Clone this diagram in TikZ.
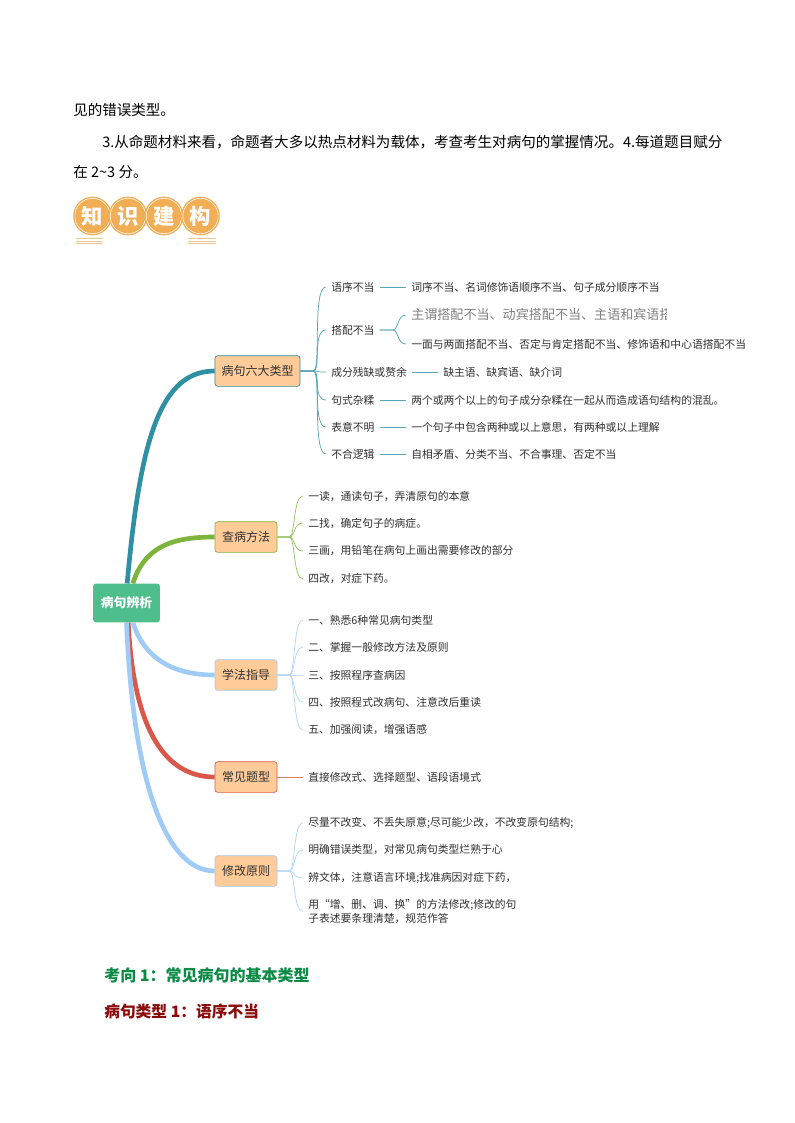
\documentclass[tikz,border=0pt]{standalone}
\usepackage{fontspec}
\usepackage{xcolor}
\setmainfont{Noto Sans CJK SC}
\usetikzlibrary{positioning}
\definecolor{rootgreen}{HTML}{4DBE8C}
\definecolor{boxfill}{HTML}{FFCC99}
\definecolor{badge}{HTML}{F2AE55}
\definecolor{stripe}{HTML}{EFC98F}
\definecolor{leaftext}{HTML}{303030}
\definecolor{teal1}{HTML}{2F8FA3}
\definecolor{green1}{HTML}{7DB53C}
\definecolor{sky1}{HTML}{A0CBF5}
\definecolor{red1}{HTML}{D9584A}
\definecolor{headgreen}{HTML}{0B8A45}
\definecolor{headred}{HTML}{8B0A0A}
\tikzset{
  every node/.style={inner sep=0pt},
  rootbox/.style={rectangle,rounded corners=2pt,fill=rootgreen,text=white,
    minimum width=50pt,minimum height=29pt,font=\fontsize{9.6pt}{12pt}\bfseries},
  typebox/.style={rectangle,rounded corners=2pt,fill=boxfill,draw=#1,line width=.5pt,
    text=leaftext,minimum width=46.5pt,minimum height=23pt,font=\fontsize{9pt}{11pt}\selectfont},
  leaf/.style={anchor=west,inner xsep=3.75pt,text=leaftext,align=left,
    font=\fontsize{8.1pt}{11.2pt}\selectfont},
  body/.style={anchor=west,text=black,font=\fontsize{10.9pt}{13pt}\selectfont},
  knob/.style={circle,minimum size=26.5pt,fill=badge,draw=white,line width=.4pt,
    preaction={draw=badge,line width=2.5pt},text=white,font=\fontsize{16pt}{17pt}\bfseries},
  trunk/.style={draw=#1,line width=3.5pt},
  twig/.style={draw=#1!80!white,line width=.55pt},
}
\begin{document}
\begin{tikzpicture}[x=.75pt,y=-.75pt]
\useasboundingbox[fill=white] (0,0) rectangle (794,1123);
\node[body] (line1) at (73,110) {见的错误类型。};
\node[body] (line2) at (102,142) {3.从命题材料来看，命题者大多以热点材料为载体，考查考生对病句的掌握情况。4.每道题目赋分};
\node[body] (line3) at (73,172) {在 2\textasciitilde3 分。};
\foreach \nm/\xpos/\ch in {k1/92.5/知, k2/128/识, k3/164/建, k4/200.5/构}
{
  \node[knob] (\nm) at (\xpos,216) {\ch};
}
\foreach \ypos in {238.5,241,243.5}
{
  \draw[stripe,line width=.6pt] (76,\ypos) -- (103,\ypos);
  \draw[stripe,line width=.6pt] (188,\ypos) -- (216,\ypos);
}
\node[rootbox] (root) at (126.5,603) {病句辨析};
\node[typebox=teal1,minimum width=63.75pt] (kind) at (257.5,371) {病句六大类型};
\node[typebox=green1] (find) at (246,537) {查病方法};
\node[typebox=sky1] (study) at (246,675) {学法指导};
\node[typebox=red1] (usual) at (246,777) {常见题型};
\node[typebox=sky1] (fix) at (246,871) {修改原则};
\draw[trunk=teal1] (root.88) .. controls (140,440) and (160,371) .. (kind.west);
\draw[trunk=green1] (root.72) .. controls (145,545) and (175,537) .. (find.west);
\draw[trunk=red1] (root.-85) .. controls (133,720) and (160,777) .. (usual.west);
\draw[trunk=sky1] (root.-72) .. controls (145,660) and (175,675) .. (study.west);
\draw[trunk=sky1] (root.south) .. controls (133,780) and (165,871) .. (fix.west);
\foreach \nm/\ypos/\lab/\leafnm/\leafx/\leaftxt in {
  ka/287/语序不当/kaa/406/词序不当、名词修饰语顺序不当、句子成分顺序不当,
  kc/372/成分残缺或赘余/kcc/438/缺主语、缺宾语、缺介词,
  kd/400/句式杂糅/kdd/406/两个或两个以上的句子成分杂糅在一起从而造成语句结构的混乱。,
  ke/427/表意不明/kee/406/一个句子中包含两种或以上意思，有两种或以上理解,
  kf/454/不合逻辑/kff/406/自相矛盾、分类不当、不合事理、否定不当}
{
  \node[leaf] (\nm) at (326,\ypos) {\lab};
  \node[leaf] (\leafnm) at (\leafx,\ypos) {\leaftxt};
  \draw[twig=teal1] (kind.east) -- ++(13,0) .. controls +(8,0) and +(-14,0) .. (\nm.west);
  \draw[twig=teal1] (\nm.east) -- (\leafnm.west);
}
\node[leaf] (kb) at (326,330) {搭配不当};
\begin{scope}
\clip (400,300) rectangle (666,330);
\node[leaf,text=gray,font=\fontsize{9.8pt}{11pt}\selectfont] (kba) at (406,315) {主谓搭配不当、动宾搭配不当、主语和宾语搭配不当};
\end{scope}
\node[leaf] (kbb) at (406,344) {一面与两面搭配不当、否定与肯定搭配不当、修饰语和中心语搭配不当};
\draw[twig=teal1] (kind.east) -- ++(13,0) .. controls +(8,0) and +(-14,0) .. (kb.west);
\draw[twig=teal1] (kb.east) -- ++(13,0) .. controls +(6,0) and +(-9,0) .. (kba.west);
\draw[twig=teal1] (kb.east) -- ++(13,0) .. controls +(6,0) and +(-9,0) .. (kbb.west);
\foreach \nm/\ypos/\lab in {
  fa/496/一读，通读句子，弄清原句的本意,
  fb/523/二找，确定句子的病症。,
  fc/551/三画，用铅笔在病句上画出需要修改的部分,
  fd/579/四改，对症下药。}
{
  \node[leaf] (\nm) at (303,\ypos) {\lab};
  \draw[twig=green1] (find.east) -- ++(12,0) .. controls +(6,0) and +(-10,0) .. (\nm.west);
}
\foreach \nm/\ypos/\lab in {
  sa/620/一、熟悉6种常见病句类型,
  sb/647/二、掌握一般修改方法及原则,
  sc/675/三、按照程序查病因,
  sd/702/四、按照程式改病句、注意改后重读,
  se/730/五、加强阅读，增强语感}
{
  \node[leaf] (\nm) at (303,\ypos) {\lab};
  \draw[twig=sky1] (study.east) -- ++(12,0) .. controls +(6,0) and +(-10,0) .. (\nm.west);
}
\node[leaf] (ua) at (303,777) {直接修改式、选择题型、语段语境式};
\draw[twig=red1] (usual.east) -- (ua.west);
\foreach \nm/\ypos/\lab in {
  xa/823/尽量不改变、不丢失原意;尽可能少改，不改变原句结构;,
  xb/850/明确错误类型，对常见病句类型烂熟于心,
  xc/878/辨文体，注意语言环境;找准病因对症下药，,
  xd/911.5/{用“增、删、调、换”的方法修改;修改的句\\子表述要条理清楚，规范作答}}
{
  \node[leaf] (\nm) at (303,\ypos) {\lab};
  \draw[twig=sky1] (fix.east) -- ++(12,0) .. controls +(6,0) and +(-10,0) .. (\nm.west);
}
\node[body,text=headgreen,font=\fontsize{12pt}{14pt}\bfseries] (head1) at (104,975) {考向 1：常见病句的基本类型};
\node[body,text=headred,font=\fontsize{11.8pt}{14pt}\bfseries] (head2) at (104,1011) {病句类型 1：语序不当};
\end{tikzpicture}
\end{document}
